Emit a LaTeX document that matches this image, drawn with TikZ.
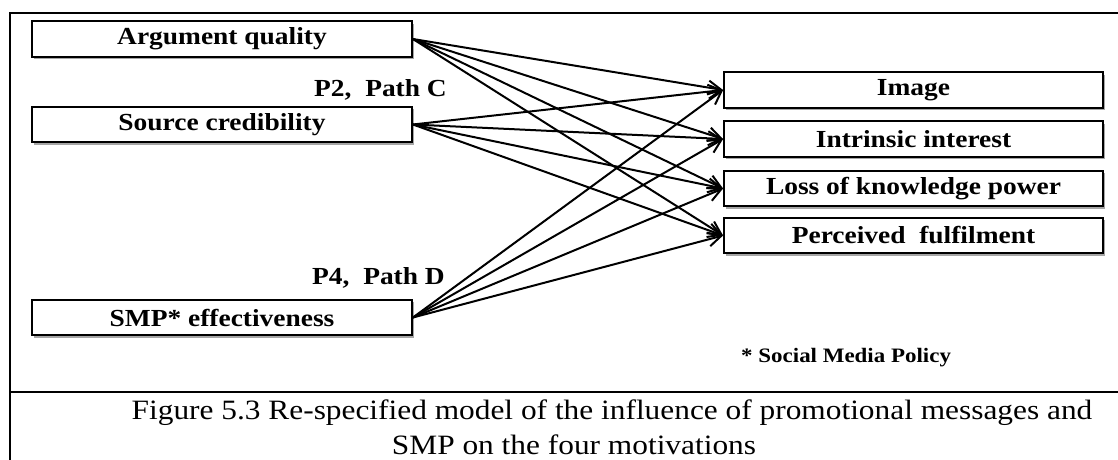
\documentclass[tikz,border=0pt]{standalone}
\usepackage{fontspec}
\setmainfont{Liberation Serif}[FakeStretch=1.12]
\usetikzlibrary{arrows.meta,shadows}
\begin{document}
\begin{tikzpicture}[x=1pt,y=-1pt,
  frameline/.style={line width=2.6pt},
  factor/.style={draw, line width=1.8pt, fill=white, inner sep=0pt,
    minimum width=380pt, minimum height=35.5pt,
    font=\fontsize{24.5}{24.5}\selectfont\bfseries,
    drop shadow={shadow xshift=2pt, shadow yshift=-2.5pt, opacity=0.35, fill=black}},
  effect/.style={factor, minimum width=379pt},
  link/.style={line width=2pt, -{Straight Barb[length=13pt,width=14pt,line width=2pt]}},
  tag/.style={inner sep=0pt, font=\fontsize{24.5}{24.5}\selectfont\bfseries},
  note/.style={inner sep=0pt, font=\fontsize{20.5}{20.5}\selectfont\bfseries},
  caption/.style={inner sep=0pt, font=\fontsize{28}{28}\selectfont}]
\useasboundingbox (0,0) rectangle (1118,459);

% outer table frame
\draw[frameline] (1120,13) -- (10,13) -- (10,461);
\draw[frameline] (10,392) -- (1120,392);

% predictors
\node[factor] (aq)  at (222,39)    {Argument quality};
\node[factor] (sc)  at (222,124.5) {Source credibility};
\node[factor] (smp) at (222,317.5) {SMP* effectiveness};

% motivations
\node[effect] (img)  at (913.5,90)    {Image};
\node[effect] (ii)   at (913.5,139)   {Intrinsic interest};
\node[effect] (lkp)  at (913.5,188.5) {Loss of knowledge power};
\node[effect] (pf)   at (913.5,235.5) {Perceived\ \ fulfilment};

% paths
\foreach \s in {aq,sc,smp}
  \foreach \t in {img,ii,lkp,pf}
    \draw[link] (\s.east) -- (\t.west);

% labels
\node[tag, anchor=base east] (p2) at (447,96)  {P2,\ \ Path C};
\node[tag, anchor=base east] (p4) at (445,284) {P4,\ \ Path D};
\node[note, anchor=base west] (smpnote) at (741,362) {* Social Media Policy};

% caption: centred paragraph with an indented first line
\node[caption, anchor=base] (cap1) at (612,419)
  {Figure 5.3 Re-specified model of the influence of promotional messages and};
\node[caption, anchor=base] (cap2) at (574,454) {SMP on the four motivations};
\end{tikzpicture}
\end{document}
